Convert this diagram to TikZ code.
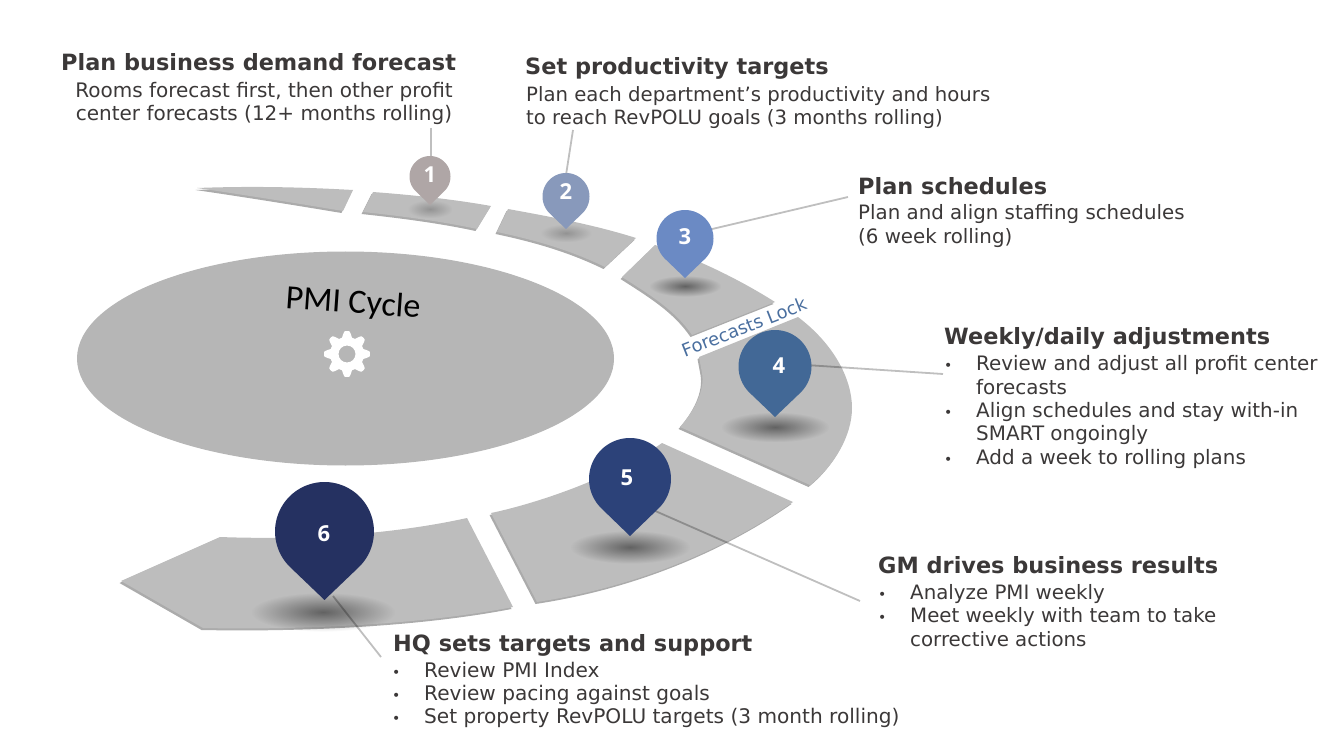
\documentclass[tikz,border=0pt]{standalone}
\usepackage{fontspec}
\setmainfont{DejaVu Sans}
\newfontfamily\pinfont{Open Sans}
\newfontfamily\capfont{Carlito}
\usetikzlibrary{fadings}
\definecolor{segc}{HTML}{BDBDBD}
\definecolor{segs}{HTML}{ABABAB}
\definecolor{ellc}{HTML}{B6B6B6}
\definecolor{inkc}{HTML}{3B3838}
\tikzfading[name=softspot, inner color=transparent!52, outer color=transparent!100]
\tikzfading[name=faintspot, inner color=transparent!78, outer color=transparent!100]
\tikzset{
  heading/.style={font=\fontsize{22.4}{27}\selectfont\bfseries, text=inkc, inner sep=0pt, anchor=west},
  body/.style={font=\fontsize{#1}{23.4}\selectfont, text=inkc, inner sep=0pt, anchor=west, align=left},
  leader/.style={black, opacity=0.25, line width=1.8pt},
  numlabel/.style={font=\pinfont\fontsize{22}{22}\selectfont\bfseries, text=white, inner sep=0pt}
}
\newcommand\segment[1]{%
  \fill[segs,shift={(-1.5,2)}] #1;
  \fill[segc] #1;}
% fading x y rx ry
\newcommand\spot[5]{%
  \fill[black,path fading=#1] ({#2-1.5*#4},{#3-1.5*#5}) rectangle ({#2+1.5*#4},{#3+1.5*#5});}
% name cx top r tip colour number nx ny
\newcommand\pinmark[9]{%
  \pgfmathsetmacro\pcy{#3+#4}%
  \pgfmathsetmacro\pac{acos(#4/(#5-\pcy))}%
  \pgfmathsetmacro\pfrom{90+\pac}%
  \pgfmathsetmacro\pto{450-\pac}%
  \fill[#6] plot[domain=\pfrom:\pto,samples=72] ({#2+#4*cos(\x)},{\pcy+#4*sin(\x)}) -- (#2,#5) -- cycle;
  \node[numlabel] (#1) at (#8,#9) {#7};}
\newcommand\bl{\makebox[32pt][l]{\fontsize{14}{14}\selectfont•}}
\newcommand\ct{\hspace*{32pt}}
\definecolor{pinA}{HTML}{AFA6A6}
\definecolor{pinB}{HTML}{8899BB}
\definecolor{pinC}{HTML}{6B8AC4}
\definecolor{pinD}{HTML}{426896}
\definecolor{pinE}{HTML}{2C4279}
\definecolor{pinF}{HTML}{253161}
\begin{document}
\begin{tikzpicture}[x=1pt,y=-1pt]
\useasboundingbox (0,0) rectangle (1342,746);
% central ellipse
\fill[ellc] (345.5,358.5) ellipse [x radius=268.5, y radius=107];
% segments
\segment{(197,188) .. controls (250,186) and (300,187) .. (353,190) -- (343,211) .. controls (295,203) and (245,195) .. (197,188) -- cycle}
\segment{(373,192) .. controls (412,195) and (452,199) .. (491,206) -- (477,229) .. controls (440,221) and (400,216) .. (363,212) -- cycle}
\segment{(508,209) .. controls (552,217) and (595,225) .. (636,238) -- (605,267) .. controls (570,250) and (535,240) .. (497,232) -- cycle}
\segment{(622,277) -- (655,245) .. controls (695,258) and (737,278) .. (775,302) -- (692,335) .. controls (675,310) and (650,295) .. (622,277) -- cycle}
\segment{(798,317) .. controls (835,345) and (852,380) .. (852,408) .. controls (852,435) and (835,465) .. (810,485) -- (680,427) .. controls (695,410) and (705,390) .. (702,373) -- (699,357) -- cycle}
\segment{(662,443) -- (793,502) .. controls (720,553) and (630,588) .. (537,602) -- (491,513) .. controls (530,505) and (610,480) .. (662,443) -- cycle}
\segment{(467,518) .. controls (390,535) and (300,540) .. (220,537) -- (121,581) -- (203,628) .. controls (300,630) and (420,625) .. (513,607) -- cycle}
% spots under pins
\spot{faintspot}{430}{209}{15}{6}
\spot{faintspot}{566}{233}{17}{6}
\spot{softspot}{685}{286}{24}{7}
\spot{softspot}{775}{427}{36}{10}
\spot{softspot}{630}{547}{40}{11}
\spot{softspot}{323}{612}{48}{13}
% connector ends
\coordinate (a1) at (431,128); \coordinate (e1) at (431,160);
\coordinate (a2) at (573,130); \coordinate (e2) at (566,175);
\coordinate (a3) at (848,197); \coordinate (e3) at (708,230);
\coordinate (a4) at (943,374); \coordinate (e4) at (806,365);
\coordinate (a5) at (860,601); \coordinate (e5) at (653,510);
\coordinate (a6) at (381,657); \coordinate (e6) at (333,596);
\foreach \i in {1,...,6} {\draw[leader] (a\i) -- (e\i);}
% pins
\pinmark{p1}{430}{156}{20.5}{205}{pinA}{1}{430}{175}
\pinmark{p2}{566}{173}{23.5}{229}{pinB}{2}{566}{192}
\pinmark{p3}{685}{210}{28.5}{278}{pinC}{3}{685}{237}
\pinmark{p4}{775}{330}{36.5}{417}{pinD}{4}{779}{366}
\pinmark{p5}{630}{438}{41}{536}{pinE}{5}{627}{478}
\pinmark{p6}{324.5}{482}{49.5}{600}{pinF}{6}{324}{534}
% centre
\node[font=\capfont\fontsize{34}{34}\selectfont, text=black, inner sep=0pt, rotate=-4] (cyc) at (353,304) {PMI Cycle};
\fill[white,even odd rule] plot[domain=0:360,samples=145,smooth] ({347+(20+3*max(-1,min(1,1.4*cos(8*\x))))*cos(\x)},{354+(20+3*max(-1,min(1,1.4*cos(8*\x))))*sin(\x)}) -- cycle
  (347,354) circle [radius=8.5];
% forecasts lock
\node[font=\fontsize{18}{18}\selectfont, text=pinD!80!pinC, rotate=21.5, inner sep=0pt] (lock) at (744,327) {Forecasts Lock};
% text blocks
\node[heading] (h1) at (61,62.5) {Plan business demand forecast};
\node[body=20,align=center,anchor=center] (b1) at (264,103.5) {Rooms forecast first, then other profit\\center forecasts (12+ months rolling)};
\node[heading] (h2) at (525,68.5) {Set productivity targets};
\node[body=19.7] (b2) at (526,107.5) {Plan each department’s productivity and hours\\to reach RevPOLU goals (3 months rolling)};
\node[heading] (h3) at (858,186.5) {Plan schedules};
\node[body=19.8] (b3) at (858,226) {Plan and align staffing schedules\\(6 week rolling)};
\node[heading] (h4) at (944,338.5) {Weekly/daily adjustments};
\node[body=19.9] (b4) at (944,412) {\bl Review and adjust all profit center\\\ct forecasts\\\bl Align schedules and stay with-in\\\ct SMART ongoingly\\\bl Add a week to rolling plans};
\node[heading] (h5) at (878,565.5) {GM drives business results};
\node[body=19.8] (b5) at (878,615.5) {\bl Analyze PMI weekly\\\bl Meet weekly with team to take\\\ct corrective actions};
\node[heading] (h6) at (393,645.5) {HQ sets targets and support};
\node[body=20.1] (b6) at (392,695) {\bl Review PMI Index\\\bl Review pacing against goals\\\bl Set property RevPOLU targets (3 month rolling)};
\end{tikzpicture}
\end{document}
